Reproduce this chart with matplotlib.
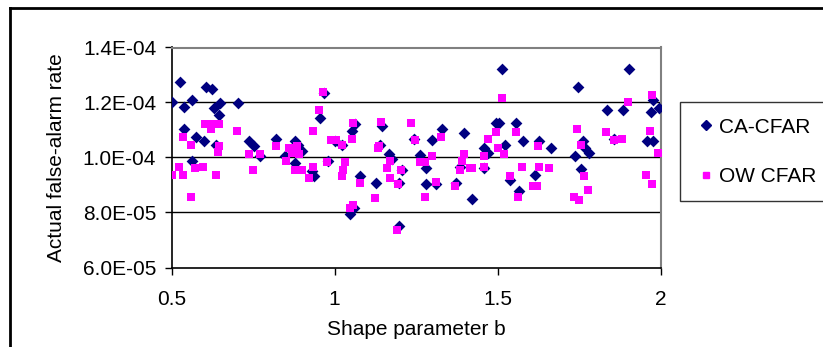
import matplotlib

matplotlib.use("Agg")
import matplotlib.pyplot as plt
from matplotlib.lines import Line2D

plt.rcParams["font.family"] = ["Liberation Sans", "DejaVu Sans"]

# CA-CFAR: shape parameter b vs actual false-alarm rate
ca_b = [0.500, 0.525, 0.538, 0.563, 0.538, 0.575, 0.600, 0.563, 0.606, 0.624,
        0.630, 0.649, 0.645, 0.636, 0.704, 0.739, 0.753, 0.771, 0.821, 0.849,
        0.878, 0.889, 0.899, 0.879, 0.930, 0.938, 0.954, 0.966, 0.981, 1.001,
        1.022, 1.052, 1.062, 1.078, 1.047, 1.060, 1.128, 1.146, 1.140, 1.165,
        1.175, 1.196, 1.206, 1.196, 1.242, 1.262, 1.281, 1.281, 1.311, 1.299,
        1.330, 1.373, 1.397, 1.385, 1.422, 1.459, 1.469, 1.459, 1.494, 1.504,
        1.514, 1.522, 1.538, 1.557, 1.577, 1.565, 1.614, 1.626, 1.662, 1.747,
        1.735, 1.760, 1.768, 1.779, 1.754, 1.834, 1.883, 1.901, 1.856, 1.956,
        1.975, 1.969, 1.975, 1.993]
ca_rate = [1.202, 1.275, 1.183, 1.209, 1.103, 1.074, 1.059, 0.987, 1.256, 1.248,
           1.180, 1.198, 1.154, 1.047, 1.198, 1.059, 1.042, 1.006, 1.067, 1.006,
           1.059, 1.047, 1.023, 0.980, 0.950, 0.932, 1.144, 1.235, 0.987, 1.059,
           1.047, 1.096, 1.120, 0.932, 0.793, 0.817, 0.907, 1.114, 1.047, 1.011,
           0.993, 0.908, 0.956, 0.750, 1.069, 1.008, 0.962, 0.904, 0.902, 1.064,
           1.103, 0.907, 1.088, 0.965, 0.848, 1.035, 1.018, 0.962, 1.125, 1.125,
           1.321, 1.045, 0.919, 1.125, 1.059, 0.877, 0.938, 1.059, 1.035, 1.256,
           1.006, 1.059, 1.033, 1.016, 0.957, 1.173, 1.173, 1.321, 1.069, 1.059,
           1.059, 1.166, 1.209, 1.180]

# OW CFAR
ow_b = [0.500, 0.524, 0.534, 0.534, 0.559, 0.559, 0.571, 0.596, 0.604, 0.620,
        0.628, 0.647, 0.645, 0.641, 0.635, 0.702, 0.739, 0.751, 0.770, 0.819,
        0.964, 0.951, 0.935, 0.861, 0.885, 0.869, 0.892, 0.851, 0.879, 0.899,
        0.934, 0.922, 0.977, 0.989, 1.005, 1.022, 1.052, 1.056, 1.031, 1.027,
        1.022, 1.077, 1.056, 1.046, 1.124, 1.142, 1.132, 1.136, 1.169, 1.161,
        1.169, 1.194, 1.204, 1.192, 1.235, 1.245, 1.260, 1.277, 1.297, 1.278,
        1.309, 1.327, 1.370, 1.383, 1.389, 1.395, 1.414, 1.422, 1.457, 1.457,
        1.469, 1.494, 1.500, 1.518, 1.512, 1.555, 1.573, 1.537, 1.562, 1.609,
        1.621, 1.622, 1.626, 1.656, 1.744, 1.756, 1.765, 1.775, 1.734, 1.750,
        1.830, 1.856, 1.879, 1.899, 1.971, 1.965, 1.955, 1.971, 1.992]
ow_rate = [0.938, 0.967, 0.938, 1.076, 1.047, 0.858, 0.960, 0.967, 1.120, 1.103,
           1.120, 1.120, 1.040, 1.020, 0.938, 1.098, 1.011, 0.953, 1.011, 1.040,
           1.237, 1.171, 1.098, 1.033, 1.040, 1.016, 1.011, 0.989, 0.953, 0.953,
           0.967, 0.924, 0.984, 1.062, 1.062, 1.047, 1.069, 1.127, 0.982, 0.955,
           0.931, 0.909, 0.829, 0.815, 0.851, 1.128, 1.033, 1.040, 0.989, 0.960,
           0.924, 0.902, 0.953, 0.735, 1.127, 1.062, 0.982, 0.982, 1.004, 0.858,
           0.911, 1.076, 0.895, 0.953, 0.989, 1.013, 0.960, 0.960, 1.004, 0.967,
           1.069, 1.091, 1.033, 1.011, 1.215, 1.091, 0.967, 0.931, 0.858, 0.895,
           0.895, 1.040, 0.967, 0.960, 1.105, 1.047, 0.931, 0.880, 0.858, 0.844,
           1.091, 1.062, 1.069, 1.200, 1.229, 1.098, 0.938, 0.902, 1.018]

SCALE = 1e-4  # rates above are in units of 1E-04
y_ticks = [6e-5, 8e-5, 1.0e-4, 1.2e-4, 1.4e-4]
x_ticks = [0.5, 1.0, 1.5, 2.0]
x_labels = ["0.5", "1", "1.5", "2"]

NAVY = "#000080"
MAGENTA = "#FF00FF"
W, H = 823, 347

fig = plt.figure(figsize=(W / 100, H / 100), dpi=100)
# chart-area frame: only its left and top edges fall inside the image
fx, fy = 10 / W, 1 - 8 / H
fig.add_artist(Line2D([fx, fx], [0, fy], transform=fig.transFigure,
                      color="black", linewidth=2.0))
fig.add_artist(Line2D([fx, 1], [fy, fy], transform=fig.transFigure,
                      color="black", linewidth=2.0))

ax = fig.add_axes([171.5 / W, 1 - 267.5 / H, 489.5 / W, 220 / H])
for y in y_ticks[1:-1]:
    ax.axhline(y, color="black", linewidth=1.0, zorder=1)

ax.scatter(ca_b, [r * SCALE for r in ca_rate], marker="D", s=36,
           color=NAVY, linewidths=0, zorder=3)
ax.scatter(ow_b, [r * SCALE for r in ow_rate], marker="s", s=32,
           color=MAGENTA, linewidths=0, zorder=4)

ax.set_xlim(0.5, 2.0)
ax.set_ylim(6e-5, 1.4e-4)
ax.set_xticks(x_ticks, x_labels)
ax.set_yticks(y_ticks, [f"{v:.1E}" for v in y_ticks])
ax.tick_params(direction="out", length=5, width=1, labelsize=15, pad=6,
               colors="black")
ax.tick_params(axis="x", pad=11)
for side in ("top", "right"):
    ax.spines[side].set_color("#808080")
    ax.spines[side].set_linewidth(1.5)
for side in ("left", "bottom"):
    ax.spines[side].set_color("black")
    ax.spines[side].set_linewidth(1.2)

ax.set_xlabel("Shape parameter b", fontsize=15, labelpad=8)
ax.set_ylabel("Actual false-alarm rate", fontsize=15, labelpad=12)

handles = [
    Line2D([], [], marker="D", linestyle="none", color=NAVY, markersize=5),
    Line2D([], [], marker="s", linestyle="none", color=MAGENTA, markersize=5),
]
leg = fig.legend(handles, ["CA-CFAR", "OW CFAR"], loc="upper left",
                 bbox_to_anchor=(680 / W, 1 - 102 / H), fontsize=15,
                 frameon=True, fancybox=False, shadow=False,
                 borderpad=0.75, labelspacing=1.45, handletextpad=0.1,
                 handlelength=1.0, borderaxespad=0)
leg.get_frame().set_edgecolor("black")
leg.get_frame().set_linewidth(1.0)

fig.savefig("out.png", dpi=100)
